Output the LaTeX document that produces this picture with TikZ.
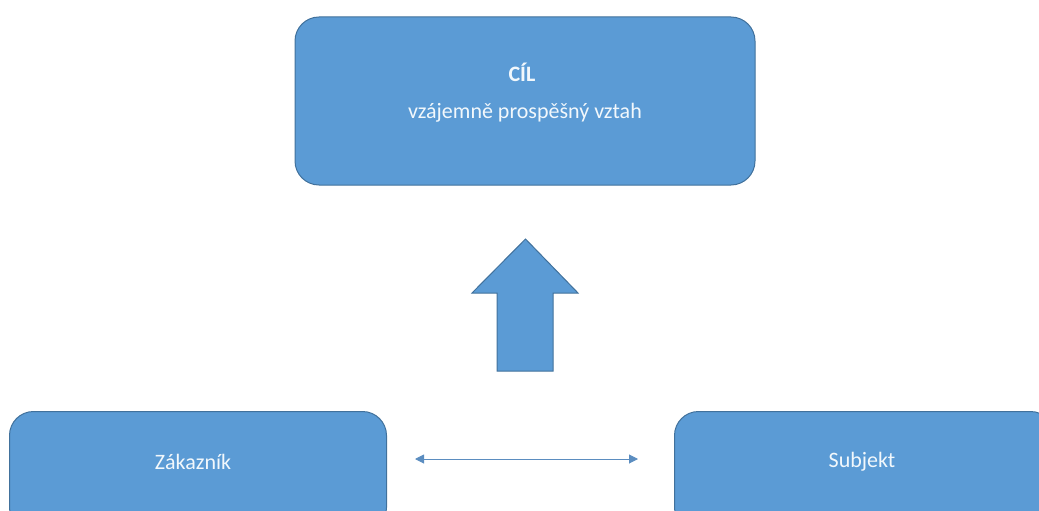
\documentclass[tikz,border=0pt]{standalone}
\usepackage{fontspec}
\setmainfont{Carlito}
\usetikzlibrary{arrows.meta}
\definecolor{boxfill}{HTML}{5B9BD5}
\definecolor{boxline}{HTML}{41719C}
\definecolor{linkcol}{HTML}{5B8DC0}
\definecolor{txt}{HTML}{F2F8FC}
\begin{document}
\begin{tikzpicture}[x=1pt,y=-1pt,
  box/.style={draw=boxline,line width=1pt,fill=boxfill,rounded corners=24pt,inner sep=0pt},
  label/.style={text=txt,font=\fontsize{22}{26}\selectfont,inner sep=0pt},
]
\useasboundingbox (0,0) rectangle (1039,511);
\clip (0,0) rectangle (1039,511);
\node[box,minimum width=460pt,minimum height=168pt] (goal) at (525,101) {};
\node[label,font=\bfseries\fontsize{22}{26}\selectfont] (goaltitle) at (522,72) {CÍL};
\node[label] (goaltext) at (525,113) {vzájemně prospěšný vztah};
\node[box,minimum width=377pt,minimum height=120pt,anchor=north west] (cust) at (9,411) {};
\node[label] (custtext) at (193,462) {Zákazník};
\node[box,minimum width=380pt,minimum height=120pt,anchor=north west] (subj) at (674,411) {};
\node[label] (subjtext) at (862,462) {Subjekt};
\draw[draw=boxline,line width=1pt,fill=boxfill,line join=miter]
  (497,371) -- (497,293) -- (472,293) -- (525.5,239) -- (578,293) -- (553,293) -- (553,371) -- cycle;
\coordinate (la) at (415,459);
\coordinate (lb) at (638,459);
\draw[linkcol,line width=1pt,{Triangle[length=9pt,width=9pt]}-{Triangle[length=9pt,width=9pt]}] (la) -- (lb);
\end{tikzpicture}
\end{document}
